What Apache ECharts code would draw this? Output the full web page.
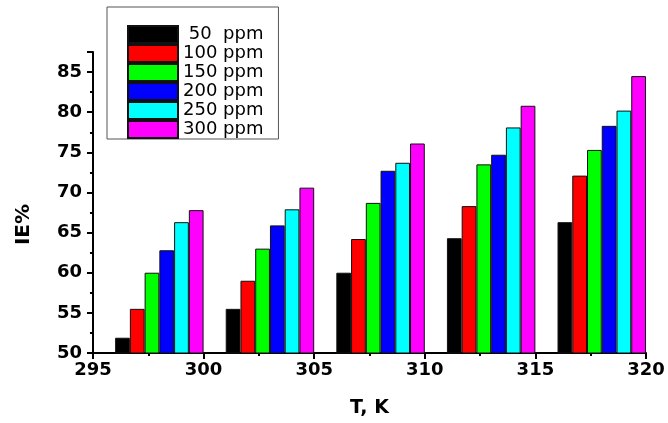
<!DOCTYPE html>
<html>
<head>
<meta charset="utf-8">
<script src="https://cdn.jsdelivr.net/npm/echarts@6/dist/echarts.min.js"></script>
<style>html,body{margin:0;padding:0;background:#fff}#c{width:668px;height:423px}</style>
</head>
<body>
<div id="c"></div>
<script>
// group centre positions on the T axis (K)
const groupT = [298, 303, 308, 313, 318];
const seriesNames = [' 50  ppm', '100 ppm', '150 ppm', '200 ppm', '250 ppm', '300 ppm'];
const colors = ['#000000', '#ff0000', '#00ff00', '#0000ff', '#00ffff', '#ff00ff'];
const ppm50  = [51.9, 55.5, 60.0, 64.3, 66.3];
const ppm100 = [55.5, 59.0, 64.2, 68.3, 72.1];
const ppm150 = [60.0, 63.0, 68.7, 73.5, 75.3];
const ppm200 = [62.8, 65.9, 72.7, 74.7, 78.3];
const ppm250 = [66.3, 67.9, 73.7, 78.1, 80.2];
const ppm300 = [67.8, 70.6, 76.1, 80.8, 84.5];
const allValues = [ppm50, ppm100, ppm150, ppm200, ppm250, ppm300];

const chart = echarts.init(document.getElementById('c'));
const axisFont = {fontFamily: 'DejaVu Sans', fontWeight: 'bold', fontSize: 18, color: '#000'};
chart.setOption({
  animation: false,
  grid: {left: 93, right: 22, top: 52, bottom: 61},
  legend: {
    orient: 'vertical',
    left: 107, top: 7,
    padding: [18, 15, 0, 20],
    borderColor: '#555',
    borderWidth: 1,
    itemWidth: 50, itemHeight: 17, itemGap: 0,
    icon: 'rect',
    textStyle: {fontFamily: 'DejaVu Sans', fontSize: 18, color: '#000'},
    data: seriesNames
  },
  xAxis: {
    type: 'value', min: 295, max: 320, interval: 5,
    name: 'T, K', nameLocation: 'middle', nameGap: 46,
    nameTextStyle: Object.assign({}, axisFont, {fontSize: 19}),
    axisLine: {show: true, onZero: false, lineStyle: {color: '#000', width: 2}},
    axisTick: {show: true, length: 6, lineStyle: {color: '#000', width: 2}},
    minorTick: {show: true, splitNumber: 2, length: 3, lineStyle: {color: '#000', width: 2}},
    axisLabel: Object.assign({margin: 8}, axisFont),
    splitLine: {show: false}
  },
  yAxis: {
    type: 'value', min: 50, max: 87.5, interval: 5,
    name: 'IE%', nameLocation: 'middle', nameGap: 59,
    nameTextStyle: Object.assign({}, axisFont, {fontSize: 20, padding: [0, 44, 0, 0]}),
    axisLine: {show: true, onZero: false, lineStyle: {color: '#000', width: 2}},
    axisTick: {show: true, length: 6, lineStyle: {color: '#000', width: 2}},
    minorTick: {show: true, splitNumber: 2, length: 3, lineStyle: {color: '#000', width: 2}},
    axisLabel: Object.assign({margin: 11, formatter: v => (v % 5 === 0 ? String(v) : '')}, axisFont),
    splitLine: {show: false}
  },
  series: seriesNames.map((n, i) => ({
    type: 'bar',
    name: n,
    barWidth: '13.33%',
    barGap: '0%',
    clip: true,
    itemStyle: {color: colors[i], borderColor: '#111', borderWidth: 1},
    data: groupT.map((t, j) => [t, allValues[i][j]])
  }))
});
</script>
</body>
</html>
